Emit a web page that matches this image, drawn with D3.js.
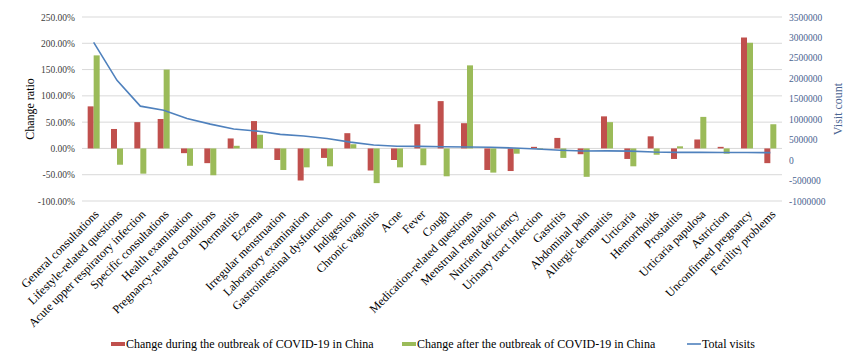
<!DOCTYPE html>
<html><head><meta charset="utf-8">
<script src="https://cdn.jsdelivr.net/npm/d3@7"></script>
<style>body{margin:0;background:#fff}svg{display:block}</style>
</head><body>
<svg id="c" width="850" height="358"></svg>
<script>
const categories = ["General consultations","Lifestyle-related questions","Acute upper respiratory infection","Specific consultations","Health examination","Pregnancy-related conditions","Dermatitis","Eczema","Irregular menstruation","Laboratory examination","Gastrointestinal dysfunction","Indigestion","Chronic vaginitis","Acne","Fever","Cough","Medication-related questions","Menstrual regulation","Nutrient deficiency","Urinary tract infection","Gastritis","Abdominal pain","Allergic dermatitis","Urticaria","Hemorrhoids","Prostatitis","Urticaria papulosa","Astriction","Unconfirmed pregnancy","Fertility problems"];
const changeDuring = [80,37,50,56,-9,-28,19,52,-22,-61,-18,29,-42,-22,46,90,48,-41,-43,3,20,-11,61,-20,23,-20,17,3,211,-28];
const changeAfter = [177,-31,-48,150,-33,-51,5,26,-41,-36,-34,8,-66,-36,-32,-53,158,-46,-10,-2,-18,-54,50,-34,-12,4,60,-10,201,46];
const totalVisits = [2880000,1950000,1320000,1220000,1020000,880000,760000,710000,630000,590000,530000,440000,370000,340000,335000,325000,320000,315000,295000,270000,240000,222000,226000,220000,198000,190000,188000,186000,185000,182000];
const leftTicks = [-100,-50,0,50,100,150,200,250];
const rightTicks = [-1000000,-500000,0,500000,1000000,1500000,2000000,2500000,3000000,3500000];
const seriesNames = ["Change during the outbreak of COVID-19 in China","Change after the outbreak of COVID-19 in China","Total visits"];
const colors = ["#C0504D","#9BBB59","#4F81BD"];

const svg = d3.select("#c");
const L=82,R=782,T=17,B=201;
const x = d3.scaleBand().domain(categories).range([L,R]).paddingInner(0.486).paddingOuter(0.243);
const xs = d3.scaleBand().domain([0,1]).range([0,x.bandwidth()]);
const y = d3.scaleLinear().domain([-100,250]).range([B,T]);
const y2 = d3.scaleLinear().domain([-1000000,3500000]).range([B,T]);
const font = "'Liberation Serif','Times New Roman',serif";

// gridlines
svg.append("g").selectAll("line").data(leftTicks).join("line")
  .attr("x1",L).attr("x2",R).attr("y1",d=>y(d)).attr("y2",d=>y(d))
  .attr("stroke","#D9D9D9").attr("stroke-width",1);

// left axis
const la = svg.append("g").attr("transform",`translate(${L},0)`)
  .call(d3.axisLeft(y).tickValues(leftTicks).tickSize(0).tickPadding(7).tickFormat(d=>d.toFixed(2)+"%"));
la.select(".domain").remove();
la.selectAll("text").attr("font-family",font).attr("font-size","9.5px").attr("fill","#404040");

// right axis
const ra = svg.append("g").attr("transform",`translate(${R},0)`)
  .call(d3.axisRight(y2).tickValues(rightTicks).tickSize(0).tickPadding(7).tickFormat(d=>String(d)));
ra.select(".domain").remove();
ra.selectAll("text").attr("font-family",font).attr("font-size","9.5px").attr("fill","#4A6491");

// bars
const series = [changeDuring, changeAfter];
series.forEach((vals,si)=>{
  svg.append("g").selectAll("rect").data(vals).join("rect")
    .attr("x",(d,i)=>x(categories[i])+xs(si))
    .attr("width",xs.bandwidth())
    .attr("y",d=>y(Math.max(0,d)))
    .attr("height",d=>Math.abs(y(d)-y(0)))
    .attr("fill",colors[si]);
});

// line
svg.append("path").datum(totalVisits)
  .attr("fill","none").attr("stroke",colors[2]).attr("stroke-width",1.6)
  .attr("d",d3.line().x((d,i)=>x(categories[i])+x.bandwidth()/2).y(d=>y2(d)));

// x labels
svg.append("g").selectAll("text").data(categories).join("text")
  .attr("transform",d=>`translate(${x(d)+x.bandwidth()/2+6},${215}) rotate(-45)`)
  .attr("text-anchor","end")
  .attr("font-family",font).attr("font-size","12px").attr("fill","#000")
  .text(d=>d);

// axis titles
svg.append("text").attr("transform",`translate(34,${(T+B)/2}) rotate(-90)`)
  .attr("text-anchor","middle").attr("font-family",font).attr("font-size","12px").attr("fill","#000")
  .text("Change ratio");
svg.append("text").attr("transform",`translate(842,${(T+B)/2}) rotate(-90)`)
  .attr("text-anchor","middle").attr("font-family",font).attr("font-size","12px").attr("fill","#4A6491")
  .text("Visit count");

// legend
const leg = [{x:111,t:0},{x:402,t:1},{x:687,t:2}];
const lg = svg.append("g");
leg.forEach(o=>{
  if(o.t<2){
    lg.append("rect").attr("x",o.x).attr("y",342).attr("width",14).attr("height",4).attr("fill",colors[o.t]);
  } else {
    lg.append("line").attr("x1",o.x).attr("x2",o.x+14).attr("y1",344).attr("y2",344).attr("stroke",colors[2]).attr("stroke-width",1.6);
  }
  lg.append("text").attr("x",o.x+15).attr("y",348).attr("font-family",font).attr("font-size","12px")
    .attr("fill","#000").text(seriesNames[o.t]);
});
</script>
</body></html>
